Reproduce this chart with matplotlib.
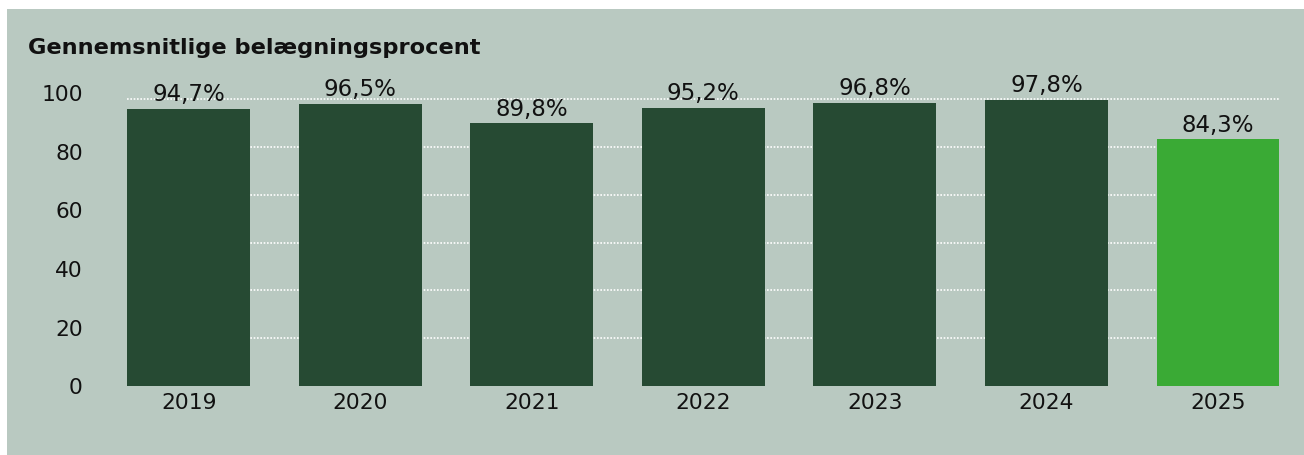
import numpy as np
import matplotlib
matplotlib.use("Agg")
import matplotlib.pyplot as plt
from matplotlib.patches import Rectangle

# --- data ---
years = ["2019", "2020", "2021", "2022", "2023", "2024", "2025"]
occupancy = [94.7, 96.5, 89.8, 95.2, 96.8, 97.8, 84.3]
y_ticks = [0, 20, 40, 60, 80, 100]
title = "Gennemsnitlige belægningsprocent"

# --- colours ---
PANEL_BG = "#b9c9c1"
DARK_GREEN = "#264a33"
LIGHT_GREEN = "#3aaa35"
TEXT_CLR = "#111111"

plt.rcParams["font.family"] = "DejaVu Sans"

fig = plt.figure(figsize=(13.04, 4.55), dpi=100)
fig.patch.set_facecolor("white")
fig.patches.append(Rectangle((7 / 1304, 0), 1, 1 - 9 / 455, transform=fig.transFigure,
                             facecolor=PANEL_BG, edgecolor="none", zorder=-10))

ax = fig.add_axes([0.0976, 0.1516, 0.8835, 0.643])
ax.set_facecolor("none")

colors = [DARK_GREEN] * (len(years) - 1) + [LIGHT_GREEN]
x = np.arange(len(years))
bars = ax.bar(x, occupancy, width=0.716, color=colors, zorder=3)

for b, v in zip(bars, occupancy):
    ax.annotate(f"{v:.1f}%".replace(".", ","), (b.get_x() + b.get_width() / 2, v),
                xytext=(0, 2), textcoords="offset points", ha="center", va="bottom",
                fontsize=16.5, color=TEXT_CLR, annotation_clip=False)

ax.set_xlim(-0.358, len(years) - 1 + 0.358)
ax.set_ylim(0, 100)
ax.set_xticks(x)
ax.set_xticklabels(years)
ax.set_yticks(y_ticks)

# dotted white gridlines (evenly spaced, independent of the labels)
ax.set_yticks(np.linspace(0, 98.1, 7), minor=True)
ax.yaxis.grid(True, which="minor", color="white", linestyle=(0, (1, 1)), linewidth=1.2, zorder=1)
ax.yaxis.grid(False, which="major")
ax.set_axisbelow(True)

ax.tick_params(axis="both", which="both", length=0, labelsize=15.7, colors=TEXT_CLR)
ax.tick_params(axis="y", pad=32)
ax.tick_params(axis="x", pad=5)
for s in ax.spines.values():
    s.set_visible(False)

fig.text(28 / 1304, 1 - 48 / 455, title, fontsize=16.2, fontweight="bold",
         color=TEXT_CLR, ha="left", va="center")

fig.savefig("out.png", dpi=100, facecolor="white")
